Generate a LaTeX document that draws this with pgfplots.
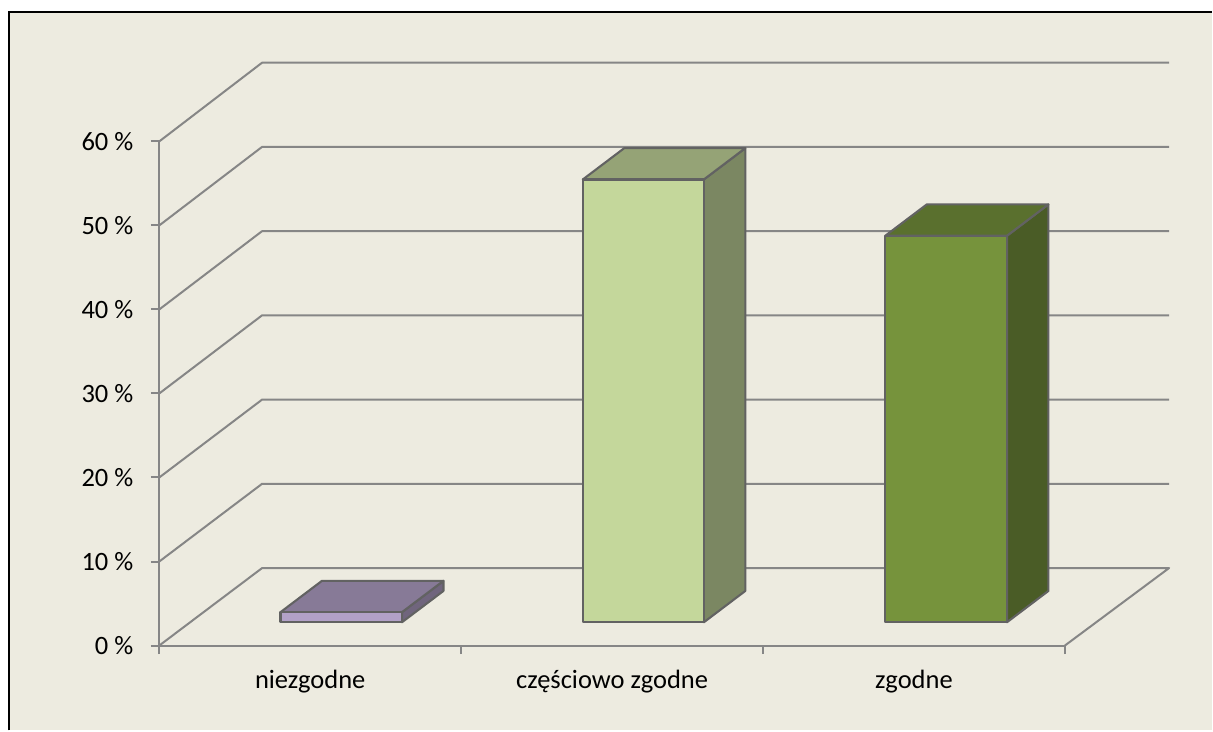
\documentclass[border=0pt]{standalone}
\usepackage{fontspec}
\setmainfont{Carlito}
\usepackage{pgfplots}
\pgfplotsset{compat=1.18}
\definecolor{bgc}{RGB}{237,235,224}
\definecolor{gridc}{RGB}{134,134,134}
\definecolor{edgec}{RGB}{98,98,98}
\definecolor{aF}{HTML}{B2A1C7}\definecolor{aT}{HTML}{877A97}\definecolor{aS}{HTML}{70657D}
\definecolor{bF}{HTML}{C4D79B}\definecolor{bT}{HTML}{95A376}\definecolor{bS}{HTML}{7B8762}
\definecolor{cF}{HTML}{76933C}\definecolor{cT}{HTML}{5A702E}\definecolor{cS}{HTML}{4A5C26}
\begin{document}
\begin{tikzpicture}[x=1pt,y=1pt]
\fill[white] (-159.4,-85) rectangle (1053.6,646);
\fill[bgc] (-150.4,-85) rectangle (1053.6,634);
\draw[black,line width=1.8pt] (-150.4,-85) -- (-150.4,634) -- (1053.6,634);
\begin{axis}[
  at={(0pt,0pt)}, anchor=origin,
  scale only axis, width=906.3pt, height=504.5pt,
  xmin=0, xmax=3, ymin=0, ymax=60,
  clip=false,
  axis lines*=left,
  axis line style={gridc,line width=2pt,-},
  tick align=outside,
  xtick={0,1,2,3},
  xticklabels={},
  extra x ticks={0.5,1.5,2.5},
  extra x tick labels={niezgodne,częściowo zgodne,zgodne},
  extra x tick style={tick style={draw=none},
     xticklabel style={yshift=-13pt}},
  major tick length=8.5pt,
  tick style={gridc,line width=2pt},
  ytick={0,10,20,30,40,50,60},
  yticklabels={0 \%,10 \%,20 \%,30 \%,40 \%,50 \%,60 \%},
  ticklabel style={font=\fontsize{26.5}{30}\selectfont,text=black},
  yticklabel style={xshift=-14pt,yshift=-0.5pt},
  wall/.style={gridc,line width=2pt,no marks,line join=round},
  bar/.style={draw=edgec,line width=2.1pt,no marks,line join=round,
     y filter/.expression={y+2.77}},
]
% walls
\addplot[wall] coordinates {(0,0)(0.3406,9.22)(3.345,9.22)(3,0)};
\addplot[wall] coordinates {(0,10)(0.3406,19.25)(3.345,19.25)};
\addplot[wall] coordinates {(0,20)(0.3406,29.27)(3.345,29.27)};
\addplot[wall] coordinates {(0,30)(0.3406,39.30)(3.345,39.30)};
\addplot[wall] coordinates {(0,40)(0.3406,49.32)(3.345,49.32)};
\addplot[wall] coordinates {(0,50)(0.3406,59.35)(3.345,59.35)};
\addplot[wall] coordinates {(0,60)(0.3406,69.37)(3.345,69.37)};
% niezgodne: 1.2
\addplot[bar,fill=aS] coordinates {(0.804,0)(0.9414,3.73)(0.9414,4.93)(0.804,1.2)} -- cycle;
\addplot[bar,fill=aT] coordinates {(0.4015,1.2)(0.804,1.2)(0.9414,4.93)(0.5389,4.93)} -- cycle;
\addplot[bar,fill=aF] coordinates {(0.4015,0)(0.804,0)(0.804,1.2)(0.4015,1.2)} -- cycle;
% czesciowo zgodne: 52.7
\addplot[bar,fill=bS] coordinates {(1.804,0)(1.9414,3.73)(1.9414,56.43)(1.804,52.7)} -- cycle;
\addplot[bar,fill=bT] coordinates {(1.403,52.7)(1.804,52.7)(1.9414,56.43)(1.5404,56.43)} -- cycle;
\addplot[bar,fill=bF] coordinates {(1.403,0)(1.804,0)(1.804,52.7)(1.403,52.7)} -- cycle;
% zgodne: 46
\addplot[bar,fill=cS] coordinates {(2.808,0)(2.9454,3.73)(2.9454,49.73)(2.808,46)} -- cycle;
\addplot[bar,fill=cT] coordinates {(2.405,46)(2.808,46)(2.9454,49.73)(2.5424,49.73)} -- cycle;
\addplot[bar,fill=cF] coordinates {(2.405,0)(2.808,0)(2.808,46)(2.405,46)} -- cycle;
\end{axis}
\end{tikzpicture}
\end{document}
